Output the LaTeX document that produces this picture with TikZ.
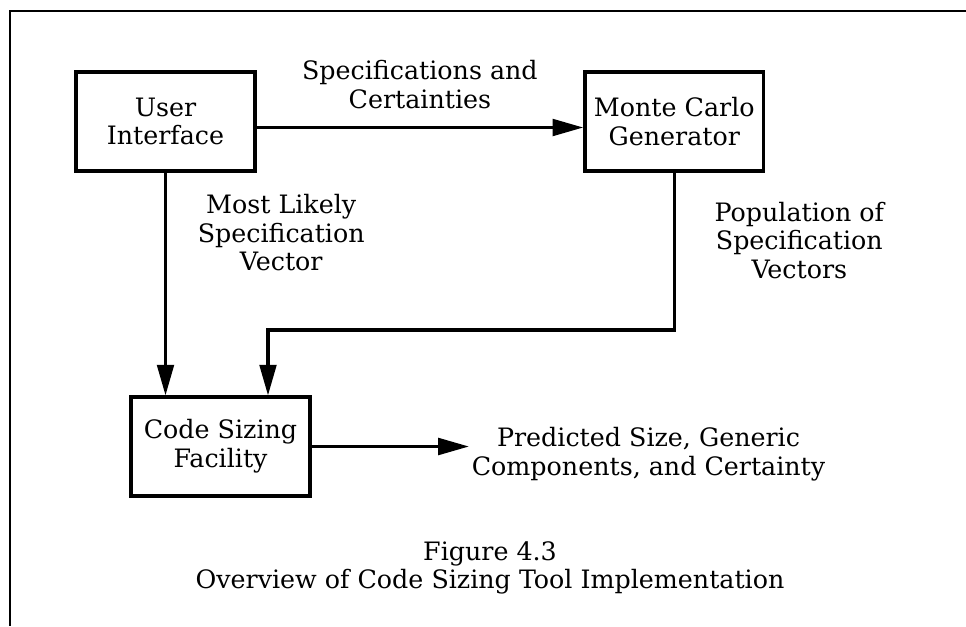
\documentclass[tikz,border=0pt]{standalone}
\usepackage{fontspec}
\setmainfont{DejaVu Serif}
\usetikzlibrary{positioning}
\usetikzlibrary{arrows.meta}

\begin{document}
\begin{tikzpicture}[
        x=0.75pt, y=-0.75pt,
        font=\fontsize{19}{21.5}\selectfont,
        blocknode/.style={rectangle, draw=black, line width=2.6pt, align=center, minimum width=134pt, minimum height=74pt, inner sep=2pt},
        labelnode/.style={align=center, inner sep=2pt},
        flow/.style={-{Triangle[length=23pt, width=12.5pt]}, line width=2.4pt},
        frame/.style={line width=2.2pt},
        ]
        \useasboundingbox (0,0) rectangle (966,626);

        %Nodes
        \node[blocknode] (ui)  at (165.5,121.5)    {User\\Interface};
        \node[blocknode] (mc)  [right=245pt of ui] {Monte Carlo\\Generator};
        \node[blocknode] (csf) at (220.5,446.5)    {Code Sizing\\Facility};
        \node[labelnode] (out) [right=118pt of csf, yshift=-6pt] {Predicted Size, Generic\\Components, and Certainty};
        \node[labelnode] (cap) at (490,568) {Figure 4.3\\Overview of Code Sizing Tool Implementation};

        %Frame
        \coordinate (tl) at (10,11);
        \coordinate (tr) at (966,11);
        \coordinate (bl) at (10,626);
        \draw[frame] (tr) -- (tl) -- (bl);

        %Lines
        \path[flow] ([yshift=-4.5pt]ui.east) edge node [labelnode, above=11pt] {Specifications and\\Certainties} ([yshift=-4.5pt]mc.west);

        \path[flow] (ui.south) edge node [labelnode, pos=0.27, right=21pt] {Most Likely\\Specification\\Vector} (ui.south |- csf.north);

        \coordinate (turn) at (268,330);
        \draw[flow] (mc.south) -- node [labelnode, pos=0.43, right=27pt] {Population of\\Specification\\Vectors} (mc.south |- turn) -- (turn) -- (turn |- csf.north);

        \draw[flow] (csf.east) -- (csf.east -| out.west);
    \end{tikzpicture}
\end{document}
